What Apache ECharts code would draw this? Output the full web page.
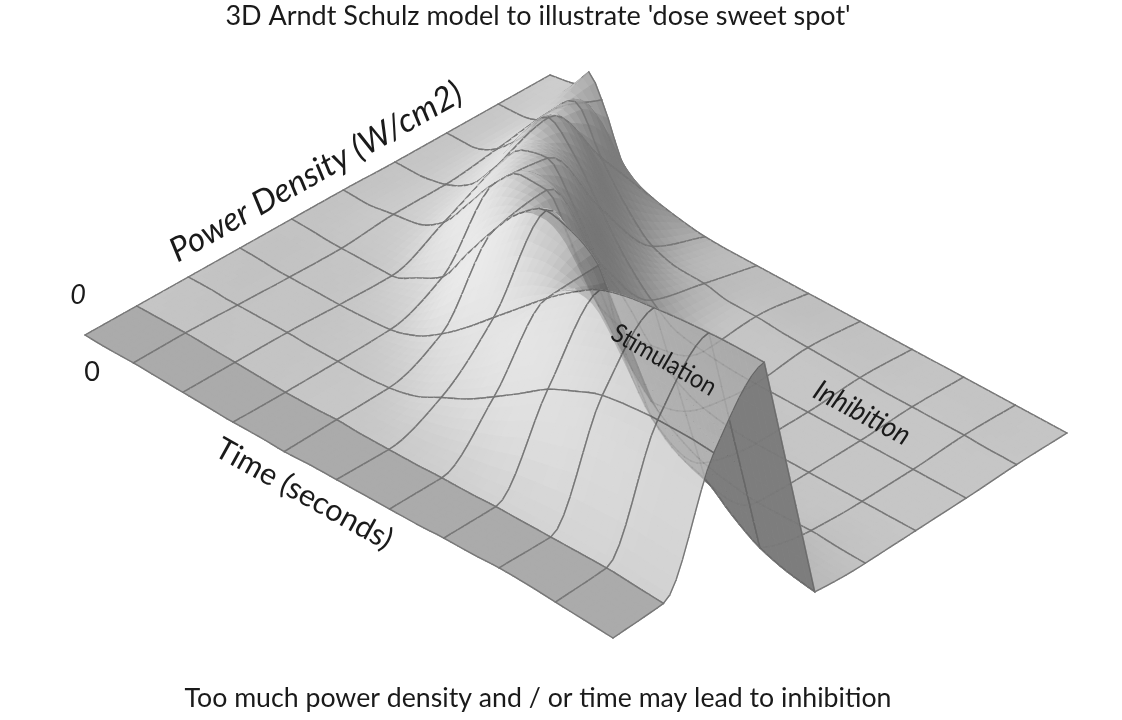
<!DOCTYPE html>
<html><head><meta charset="utf-8">
<style>html,body{margin:0;padding:0;background:#fff}#c{width:1122px;height:720px}#c canvas{filter:blur(.45px)}</style>
<script src="https://cdn.jsdelivr.net/npm/echarts@6/dist/echarts.min.js"></script>
</head><body><div id="c"></div>
<script>
// Axis samples of the surface
const timeTicks = [0,.5,.75,1,1.5,2,2.5,3,3.5,4,4.5,5,5.5,6,6.5,7,7.5,8,8.5,9,9.5,10];
const powerTicks = [0,1,2,3,4,5,6,7,8,9];
// Response heights, one list per power-density grid line
const power0 = [98,97,97,97,96,95,94,93,93,92,93,93,93,93,93,94,94,95,94,92,90,88];
const power1 = [96,96,96,96,95,94,93,92,92,93,92,92,92,93,93,94,94,94,94,94,92,90];
const power2 = [94,94,93,93,93,93,92,92,92,94,100,113,126,143,161,180,193,204,208,210,210,208];
const power3 = [92,91,90,90,90,90,91,93,101,117,138,162,186,210,231,248,256,260,263,265,266,266];
const power4 = [90,89,88,88,88,88,100,115,153,190,221,238,231,212,132,88,66,56,35,18,9,4];
const power5 = [88,87,89,91,95,111,144,178,200,199,158,112,75,45,25,12,6,2,2,3,1,0];
const power6 = [85,85,87,90,104,136,166,172,139,96,72,41,19,7,2,0,0,0,0,0,0,0];
const power7 = [83,83,87,95,121,154,130,91,54,27,9,4,1,0,0,0,0,0,0,0,0,0];
const power8 = [81,82,86,101,125,83,47,22,14,13,8,8,6,5,4,3,2,2,2,2,1,1];
const power9 = [79,84,103,82,23,11,5,1,0,0,0,0,0,0,0,0,0,0,0,0,0,0];
const heights = [power0,power1,power2,power3,power4,power5,power6,power7,power8,power9];
const titleText = "3D Arndt Schulz model to illustrate 'dose sweet spot'";
const captionText = "Too much power density and / or time may lead to inhibition";
const powerLabel = "Power Density (W/cm2)";
const timeLabel = "Time (seconds)";
const zeroLabel = "0";
const stimLabel = "Stimulation";
const inhibLabel = "Inhibition";

function tangents(xs,ys){
  const n=xs.length,d=[],m=new Array(n).fill(0);
  for(let i=0;i<n-1;i++)d.push((ys[i+1]-ys[i])/(xs[i+1]-xs[i]));
  m[0]=d[0];m[n-1]=d[n-2];
  for(let i=1;i<n-1;i++){ if(d[i-1]*d[i]>0){m[i]=2*d[i-1]*d[i]/(d[i-1]+d[i]);} }
  return m;
}
function hermite(xs,ys,m,x,straightDrop){
  let i=0; while(i<xs.length-2&&x>xs[i+1])i++;
  const w=xs[i+1]-xs[i],u=(x-xs[i])/w,u2=u*u,u3=u2*u;
  const c=(2*u3-3*u2+1)*ys[i]+(u3-2*u2+u)*w*m[i]+(-2*u3+3*u2)*ys[i+1]+(u3-u2)*w*m[i+1];
  if(straightDrop&&ys[i]-ys[i+1]>150) return ys[i]+(ys[i+1]-ys[i])*u;
  return c;
}
const fineT=[];
timeTicks.forEach((t,i)=>{ if(i===timeTicks.length-1){fineT.push(t);return;}
  const w=timeTicks[i+1]-t,n=Math.round(w/.125); for(let k=0;k<n;k++)fineT.push(t+w*k/n); });
const fineP=[]; for(let i=0;i<=9;i++){ for(let k=0;k<8;k++){ if(i<9||k===0)fineP.push(i+k/8);} }
// Resample for drawing: along power for each time column, then along time
const colFine=timeTicks.map((_,c)=>{ const ys=heights.map(r=>r[c]),m=tangents(powerTicks,ys);
  return fineP.map(p=>hermite(powerTicks,ys,m,p,true)); });
const H=fineP.map((_,j)=>{ const ys=colFine.map(c=>c[j]),m=tangents(timeTicks,ys);
  return fineT.map(t=>hermite(timeTicks,ys,m,t,false)); });

function project(t,p,h){
  const T=t/10,P=p/9,k=.1*(1-P),s=T/(1+k*(1-T));
  return [(1-P)*(85+528*s)+P*(550+517*s),(1-P)*(433+293*s)+P*(154+279*s)-h];
}
const node=(i,j)=>project(fineT[i],fineP[j],H[j][i]);
const isInt=v=>Math.abs(v-Math.round(v))<1e-6;
function flipped(i,j){
  const a=node(i,j),b=node(i+1,j),c=node(i,j+1),d=node(i+1,j+1);
  const tv=[(b[0]+d[0]-a[0]-c[0])/2,(b[1]+d[1]-a[1]-c[1])/2];
  const pv=[(c[0]+d[0]-a[0]-b[0])/2,(c[1]+d[1]-a[1]-b[1])/2];
  return tv[0]*pv[1]-tv[1]*pv[0]>0;
}
const nI=fineT.length-1,nJ=fineP.length-1;
const flip=[],raw=[];
for(let j=0;j<nJ;j++){ flip.push([]);raw.push([]);
  for(let i=0;i<nI;i++){
    flip[j].push(flipped(i,j));
    const dt=fineT[i+1]-fineT[i],dp=fineP[j+1]-fineP[j];
    const gt=(H[j][i+1]+H[j+1][i+1]-H[j][i]-H[j+1][i])/2/dt;
    const gp=(H[j+1][i]+H[j+1][i+1]-H[j][i]-H[j][i+1])/2/dp;
    const lit=.15*gp+.6*gt, dark=.3*gp+.36*gt;
    raw[j].push(lit>=0&&dark>=0?198+48*Math.tanh(lit/50):198+90*Math.tanh(Math.min(dark,0)/38));
  }}
function smooth(f){
  const out=f.map(r=>r.slice());
  for(let j=0;j<nJ;j++)for(let i=0;i<nI;i++){
    if(flip[j][i]||fineP[j]<1-1e-6)continue;
    let s=0,w=0;
    for(let b=-2;b<=2;b++)for(let a=-2;a<=2;a++){
      const jj=j+b,ii=i+a;
      if(jj<0||ii<0||jj>=nJ||ii>=nI||flip[jj][ii]||fineP[jj]<1-1e-6)continue;
      s+=f[jj][ii];w++;
    }
    if(w)out[j][i]=s/w;
  }
  return out;
}
const shade=smooth(smooth(raw));
function gray(i,j){
  if(fineP[j]<1-1e-6) return 171;
  if(flip[j][i]) return fineP[j]<5?150:126;
  return Math.round(shade[j][i]);
}
const cells=[];
for(let j=nJ-1;j>=0;j--){ for(let i=0;i<nI;i++){ cells.push([i,j]); } }
const under=cells.filter(c=>flip[c[1]][c[0]]&&fineP[c[1]]<5);
const lined=cells.filter(c=>isInt(fineT[c[0]])||isInt(fineT[c[0]+1])||isInt(fineP[c[1]])||isInt(fineP[c[1]+1]));
const lineColor='#787878';
function edges(i,j,api,alpha){
  const pts=[node(i,j),node(i+1,j),node(i+1,j+1),node(i,j+1)].map(q=>api.coord(q));
  const out=[];
  const add=(a,b)=>out.push({type:'line',shape:{x1:pts[a][0],y1:pts[a][1],x2:pts[b][0],y2:pts[b][1]},
    style:{stroke:lineColor,lineWidth:1.4,opacity:alpha,lineCap:'round'},silent:true});
  if(isInt(fineT[i]))add(3,0);
  if(isInt(fineT[i+1]))add(1,2);
  if(isInt(fineP[j]))add(0,1);
  if(isInt(fineP[j+1]))add(2,3);
  return out;
}
const chart=echarts.init(document.getElementById('c'),null,{renderer:'canvas'});
const txt=(text,x,y,font,deg,sx)=>({type:'text',x:x,y:y,rotation:(deg||0)*Math.PI/180,scaleX:sx||1,z:50,silent:true,
  style:{text:text,font:font,fill:'#1a1a1a',align:'center',verticalAlign:'middle'}});
chart.setOption({
  animation:false,
  backgroundColor:'#fff',
  tooltip:{show:false},
  grid:{left:0,right:0,top:0,bottom:0},
  xAxis:{type:'value',min:0,max:1122,show:false},
  yAxis:{type:'value',min:0,max:720,inverse:true,show:false},
  series:[
   {type:'custom',coordinateSystem:'cartesian2d',clip:false,silent:true,progressive:0,data:cells,z:2,
    renderItem:(params,api)=>{
      const i=api.value(0),j=api.value(1),g=gray(i,j),col='rgb('+g+','+g+','+g+')';
      const pts=[node(i,j),node(i+1,j),node(i+1,j+1),node(i,j+1)].map(q=>api.coord(q));
      return {type:'group',children:[
        {type:'polygon',shape:{points:pts},style:{fill:col,stroke:col,lineWidth:1.2}}
      ].concat(edges(i,j,api,1))};
    }},
   {type:'custom',coordinateSystem:'cartesian2d',clip:false,silent:true,progressive:0,data:under,z:3,
    renderItem:(params,api)=>{
      const i=api.value(0),j=api.value(1);
      const pts=[node(i,j),node(i+1,j),node(i+1,j+1),node(i,j+1)].map(q=>api.coord(q));
      return {type:'polygon',shape:{points:pts},style:{fill:'rgba(0,0,0,0.16)'}};
    }},
   {type:'custom',coordinateSystem:'cartesian2d',clip:false,silent:true,progressive:0,data:lined,z:4,
    renderItem:(params,api)=>({type:'group',children:edges(api.value(0),api.value(1),api,.1)})}
  ],
  graphic:{elements:[
    txt(titleText,538,16,'27px Lato'),
    txt(captionText,538,698,'26.7px Lato'),
    txt(powerLabel,316,172,'italic 33.5px Lato',29.5),
    txt(timeLabel,304,494,'30.5px Lato',-29),
    txt(zeroLabel,78,295,'italic 27px Lato'),
    txt(zeroLabel,92,372,'27px Lato'),
    txt(stimLabel,664,360,'26px Lato',-30,.9),
    txt(inhibLabel,862,413,'italic 29px Lato',-28,.92)
  ]}
});
</script></body></html>
